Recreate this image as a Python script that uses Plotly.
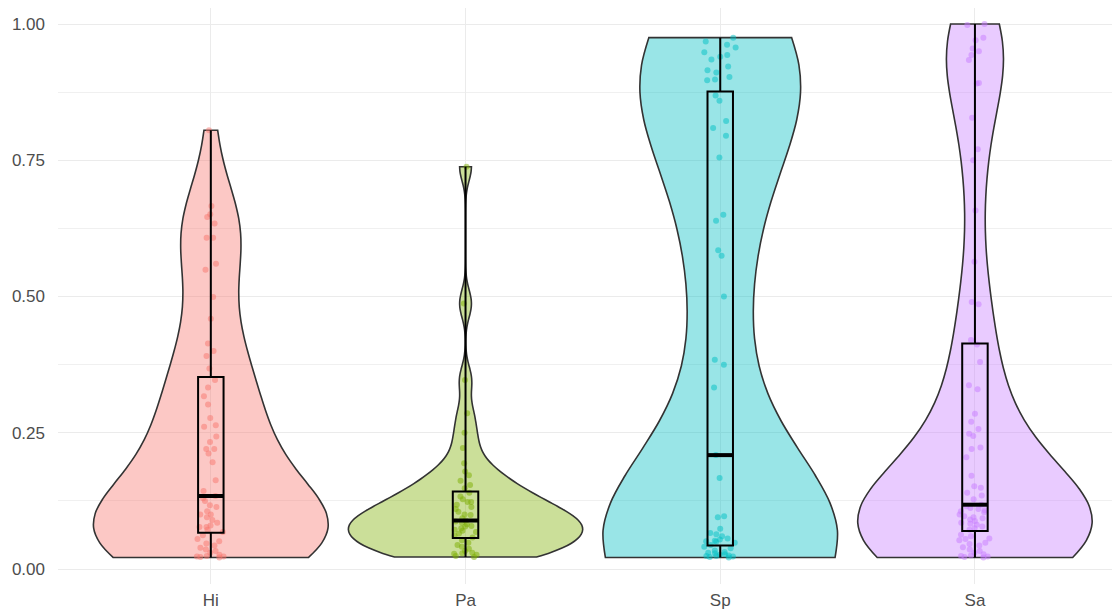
import numpy as np
import plotly.graph_objects as go

categories = ["Hi", "Pa", "Sp", "Sa"]
colors = ["#F8766D", "#7CAE00", "#00BFC4", "#C77CFF"]

hi_vals = [0.021, 0.022, 0.023, 0.023, 0.024, 0.026, 0.030, 0.033, 0.036, 0.039, 0.043, 0.047, 0.051, 0.055, 0.062,
           0.068,
           0.072, 0.077, 0.077, 0.080, 0.085, 0.090, 0.095, 0.100, 0.100, 0.106, 0.114, 0.117, 0.125, 0.130,
           0.134,
           0.143, 0.163, 0.196, 0.212, 0.220, 0.220, 0.233, 0.243, 0.261, 0.264, 0.277, 0.302, 0.317, 0.333,
           0.347,
           0.368, 0.391, 0.400, 0.414, 0.459, 0.499, 0.549, 0.560, 0.608, 0.608, 0.634, 0.646, 0.651, 0.666, 0.805]

pa_vals = [0.022, 0.024, 0.026, 0.028, 0.029, 0.030, 0.033, 0.037, 0.041, 0.044, 0.048, 0.053,
           0.058,
           0.061, 0.065, 0.068, 0.070, 0.072, 0.075, 0.078, 0.079, 0.082, 0.085, 0.087,
           0.089,
           0.093, 0.099, 0.100, 0.105, 0.110, 0.114, 0.118, 0.123, 0.123, 0.128, 0.133,
           0.140,
           0.148, 0.154, 0.162, 0.172, 0.179, 0.194, 0.222, 0.250, 0.286, 0.347, 0.487, 0.738]

sp_vals = [0.021, 0.022, 0.023, 0.024, 0.024, 0.025, 0.026, 0.027, 0.029, 0.030, 0.031, 0.034, 0.038, 0.041,
           0.044,
           0.048, 0.050, 0.051, 0.052, 0.054, 0.056, 0.060, 0.064, 0.066, 0.074, 0.095, 0.097, 0.167,
           0.209,
           0.333, 0.375, 0.384, 0.500, 0.575, 0.585, 0.639, 0.650, 0.755, 0.795, 0.809, 0.822, 0.859,
           0.869,
           0.897, 0.898, 0.903, 0.911, 0.915, 0.922, 0.935, 0.940, 0.943, 0.948, 0.957, 0.962, 0.968, 0.975]

sa_vals = [0.021, 0.022, 0.023, 0.024, 0.025, 0.027, 0.030, 0.033, 0.036, 0.040, 0.043, 0.046, 0.048, 0.053, 0.055, 0.056, 0.060, 0.063,
           0.072,
           0.075, 0.078, 0.081, 0.083, 0.085, 0.088, 0.091, 0.093, 0.095, 0.097, 0.100, 0.104, 0.106, 0.108, 0.110, 0.112, 0.115,
           0.118,
           0.128, 0.135, 0.140, 0.149, 0.152, 0.171, 0.205, 0.220, 0.223, 0.244, 0.248, 0.257, 0.270, 0.285, 0.330, 0.337, 0.380,
           0.412,
           0.420, 0.486, 0.490, 0.564, 0.658, 0.750, 0.770, 0.828, 0.891, 0.892, 0.934, 0.943, 0.950, 0.955, 0.970, 0.975, 0.998, 1.000]

series = [hi_vals, pa_vals, sp_vals, sa_vals]

y_tickvals = [0, 0.25, 0.5, 0.75, 1.0]
y_ticktext = ["0.00", "0.25", "0.50", "0.75", "1.00"]
y_minor = [0.125, 0.375, 0.625, 0.875]


def hex_rgba(h, a):
    h = h.lstrip("#")
    r, g, b = int(h[0:2], 16), int(h[2:4], 16), int(h[4:6], 16)
    return f"rgba({r},{g},{b},{a})"


def nrd0(v):
    v = np.asarray(v, dtype=float)
    sd = v.std(ddof=1)
    q1, q3 = np.percentile(v, [25, 75])
    lo = min(sd, (q3 - q1) / 1.34)
    if lo <= 0:
        lo = sd
    return 0.9 * lo * len(v) ** (-0.2)


fig = go.Figure()
box_w = 0.1
for i, (cat, col, vals) in enumerate(zip(categories, colors, series)):
    pos = i + 1
    fig.add_trace(go.Violin(
        x=[pos] * len(vals), y=vals, name=cat,
        fillcolor=hex_rgba(col, 0.4),
        line=dict(color="#333333", width=1.6),
        spanmode="hard", scalemode="width", width=0.92,
        bandwidth=nrd0(vals),
        points="all", jitter=0.14, pointpos=0,
        marker=dict(color=col, size=6, opacity=0.5, line=dict(width=0)),
        box_visible=False, meanline_visible=False,
        showlegend=False, hoverinfo="y",
    ))

for i, (cat, col, vals) in enumerate(zip(categories, colors, series)):
    pos = i + 1
    fig.add_trace(go.Box(
        x=[pos] * len(vals), y=vals, name=cat,
        boxpoints=False, width=box_w, whiskerwidth=0,
        quartilemethod="linear",
        fillcolor="rgba(0,0,0,0)",
        line=dict(color="black", width=2),
        showlegend=False, hoverinfo="skip",
    ))
    med = float(np.median(vals))
    fig.add_trace(go.Scatter(
        x=[pos - box_w / 2, pos + box_w / 2], y=[med, med],
        mode="lines", line=dict(color="black", width=4),
        showlegend=False, hoverinfo="skip",
    ))

# page body adds an 8px offset; size the figure so the panel lands where the reference has it
fig.update_layout(
    width=1112, height=607,
    margin=dict(l=50, r=0, t=0, b=31),
    paper_bgcolor="white", plot_bgcolor="white",
    font=dict(family="Liberation Sans, Arial, sans-serif", size=17, color="#4D4D4D"),
    violinmode="overlay", boxmode="overlay",
)
fig.update_xaxes(
    range=[0.4, 4.5695], tickvals=[1, 2, 3, 4], ticktext=categories,
    showgrid=True, gridcolor="#EBEBEB", gridwidth=1.2,
    zeroline=False, showline=False, ticks="",
    tickfont=dict(size=17, color="#4D4D4D"), ticklabelstandoff=4,
)
fig.update_yaxes(
    range=[-0.0275, 1.0294], tickvals=y_tickvals, ticktext=y_ticktext,
    showgrid=True, gridcolor="#EBEBEB", gridwidth=1.2,
    minor=dict(tickvals=y_minor, showgrid=True, gridcolor="#F0F0F0", gridwidth=0.8),
    zeroline=False, showline=False, ticks="",
    tickfont=dict(size=17, color="#4D4D4D"), ticklabelstandoff=12,
)

fig.write_html("out.html")
